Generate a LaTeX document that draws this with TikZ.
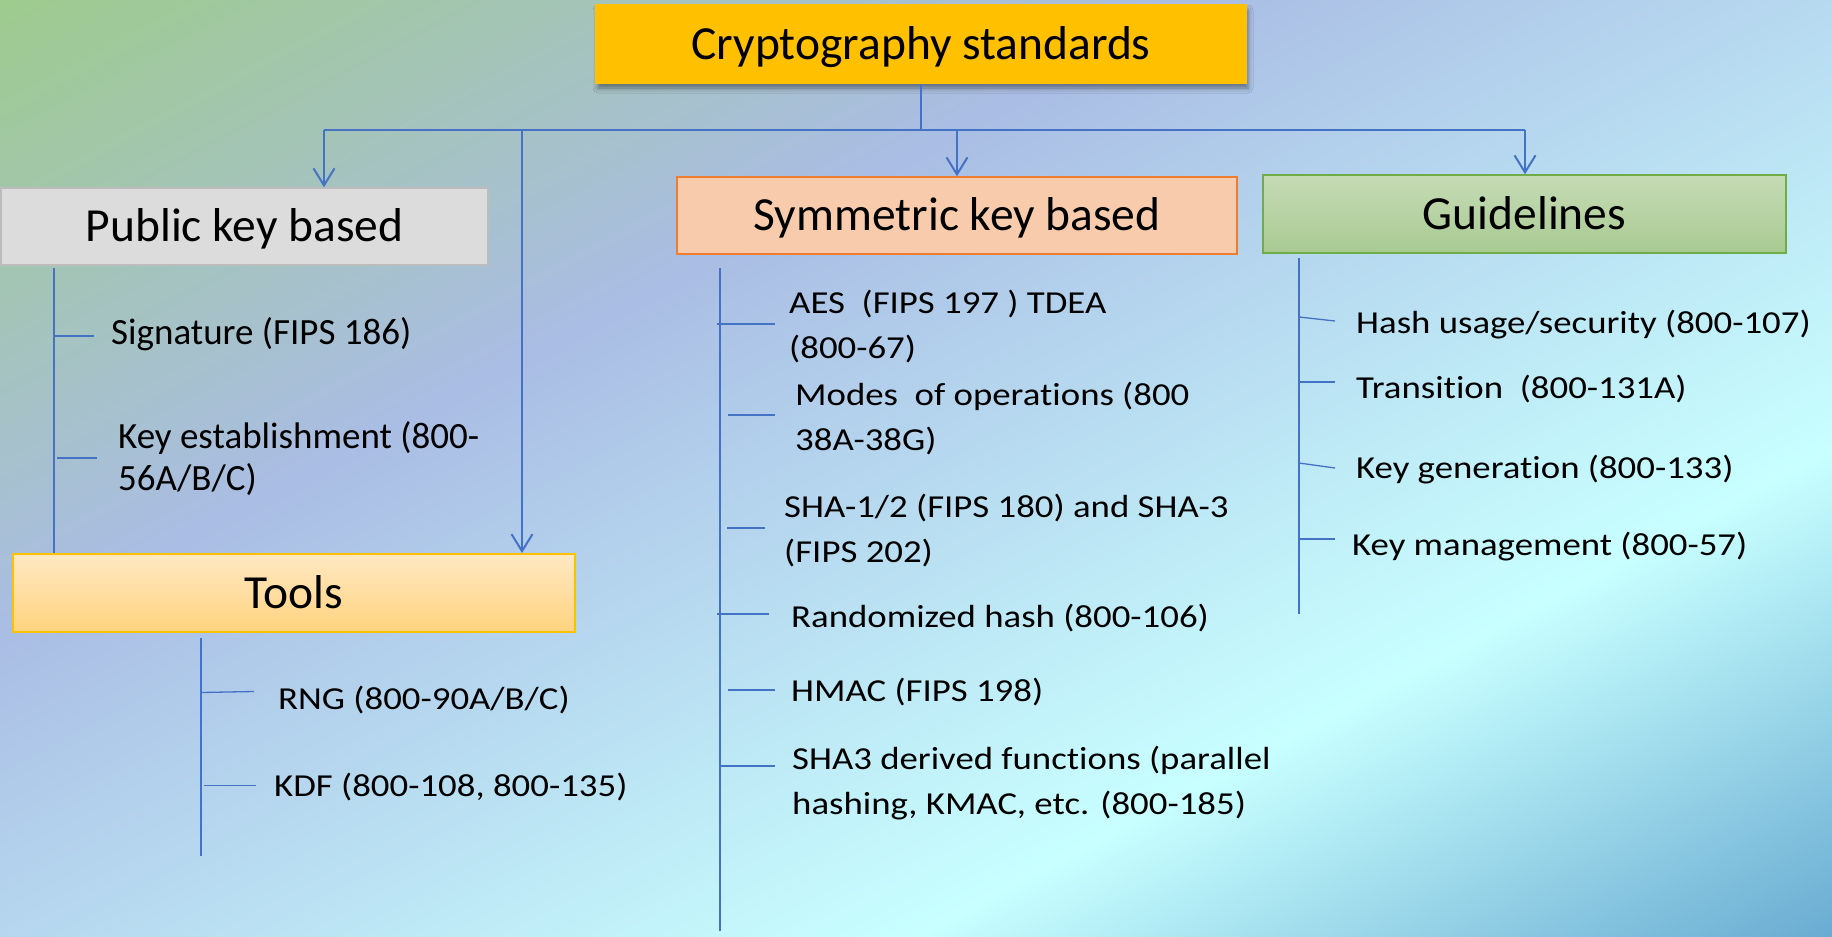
\documentclass[tikz,border=0pt]{standalone}
\usepackage{fontspec}
\setmainfont[Ligatures=NoCommon]{Carlito}
\newfontfamily\wideitem[FakeStretch=1.15,Ligatures=NoCommon]{Carlito}
\usetikzlibrary{arrows.meta,shadows.blur}

% slide background colours
\definecolor{bgGreen}{HTML}{9ECB8E}
\definecolor{bgLav}{HTML}{AABDE4}
\definecolor{bgCyan}{HTML}{C8FFFF}
\definecolor{bgDeep}{HTML}{6AACD2}
% boxes and lines
\definecolor{link}{HTML}{4472C4}
\definecolor{topFill}{HTML}{FFC000}
\definecolor{pubFill}{HTML}{DCDCDC}
\definecolor{pubLine}{HTML}{BCBCBC}
\definecolor{symFill}{HTML}{F8CBAD}
\definecolor{symLine}{HTML}{ED7D31}
\definecolor{guideTop}{HTML}{C6DBB5}
\definecolor{guideBot}{HTML}{A8CA92}
\definecolor{guideLine}{HTML}{70AD47}
\definecolor{toolTop}{HTML}{FFE8C2}
\definecolor{toolBot}{HTML}{FFD37F}
\definecolor{toolLine}{HTML}{FFC000}

\pgfdeclarehorizontalshading{slidebg}{100bp}{%
  color(0bp)=(bgGreen); color(27bp)=(bgGreen);
  color(42.28bp)=(bgLav); color(61.28bp)=(bgCyan);
  color(73.01bp)=(bgDeep); color(100bp)=(bgDeep)}

\newcommand{\twoline}[2]{\vtop{\hbox{#1}\hbox{#2}}}

\tikzset{
  hdr/.style={font=\fontsize{47.5}{56}\selectfont, text height=30.6pt,
    text depth=0pt, inner sep=0pt, line width=1.5pt},
  pubitem/.style={font=\fontsize{37}{42}\selectfont, anchor=base west, inner sep=0pt},
  item/.style={font=\wideitem\fontsize{32}{45}\selectfont, anchor=base west, inner sep=0pt},
  conn/.style={draw=link, line width=2pt},
  arr/.style={conn, -{Straight Barb[length=17pt,width=21pt,line width=2pt]}},
  branch/.style={draw=link, line width=1.3pt},
}

\begin{document}
\begin{tikzpicture}[x=1pt,y=-1pt]
\useasboundingbox (0,0) rectangle (1832,937);

% background
\begin{scope}
  \clip (0,0) rectangle (1832,937);
  \shade[shading=slidebg, shading angle=-62] (0,-447.5) rectangle (1832,1384.5);
\end{scope}

% headers
\node[hdr, fill=topFill, draw=topFill, minimum width=650pt, minimum height=78pt,
  blur shadow={shadow xshift=2pt, shadow yshift=-5pt, shadow blur radius=5pt, shadow opacity=45}]
  (top) at (921,44) {Cryptography standards};
\node[hdr, fill=pubFill, draw=pubLine, minimum width=487pt, minimum height=77pt]
  (pub) at (244.5,226.5) {Public key based};
\node[hdr, fill=symFill, draw=symLine, minimum width=560pt, minimum height=77pt]
  (sym) at (957,215.5) {Symmetric key based};
\node[hdr, top color=guideTop, bottom color=guideBot, draw=guideLine,
  minimum width=523pt, minimum height=78pt]
  (guide) at (1524.5,214) {Guidelines};
\node[hdr, top color=toolTop, bottom color=toolBot, draw=toolLine, line width=2pt,
  minimum width=562pt, minimum height=78pt]
  (tools) at (294,593) {Tools};

% top-level connectors
\coordinate (bus) at (921,130);
\coordinate (busPub) at (324,130);
\coordinate (busTools) at (522,130);
\coordinate (busSym) at (957,130);
\coordinate (busGuide) at (1525,130);
\draw[conn] (top.south) -- (bus);
\draw[conn] (busPub) -- (busGuide);
\draw[arr] (busPub) -- (pub.north -| busPub);
\draw[arr] (busTools) -- (tools.north -| busTools);
\draw[arr] (busSym) -- (sym.north -| busSym);
\draw[arr] (busGuide) -- (guide.north -| busGuide);

% public key items
\draw[branch] (54,268) -- (54,553);
\draw[branch] (54,336) -- (94,336);
\draw[branch] (57,458) -- (97,458);
\node[pubitem] (sig) at (111,344) {Signature (FIPS 186)};
\node[pubitem] (kest) at (118,448) {\twoline{Key establishment (800-}{56A/B/C)}};

% tools items
\draw[branch] (201,638) -- (201,856);
\draw[branch] (201,692.5) -- (254,691.5);
\draw[branch] (204,785.5) -- (256,785.5);
\node[item] (rng) at (278,709) {RNG (800-90A/B/C)};
\node[item] (kdf) at (274,796) {KDF (800-108, 800-135)};

% symmetric key items
\draw[branch] (720,268) -- (720,931);
\draw[branch] (717,324) -- (775,324);
\draw[branch] (728,415) -- (775,415);
\draw[branch] (727,528) -- (765,528);
\draw[branch] (717,614) -- (769,614);
\draw[branch] (728,690) -- (775,690);
\draw[branch] (721,766) -- (775,766);
\node[item] (aes) at (789,313) {\twoline{AES\ \ (FIPS 197 ) TDEA}{(800-67)}};
\node[item] (modes) at (795,405) {\twoline{Modes\ \ of operations (800}{38A-38G)}};
\node[item] (sha) at (784,517) {\twoline{SHA-1/2 (FIPS 180) and SHA-3}{(FIPS 202)}};
\node[item] (rhash) at (791,627) {Randomized hash (800-106)};
\node[item] (hmac) at (791,701) {HMAC (FIPS 198)};
\node[item] (sha3) at (792,769) {\twoline{SHA3 derived functions (parallel}{hashing, KMAC, etc. (800-185)}};

% guideline items
\draw[branch] (1299,258) -- (1299,614);
\draw[branch] (1299,317) -- (1335,321);
\draw[branch] (1299,382) -- (1335,382);
\draw[branch] (1299,463) -- (1335,468);
\draw[branch] (1299,539) -- (1335,539);
\node[item] (hashuse) at (1356,333) {Hash usage/security (800-107)};
\node[item] (trans) at (1356,398) {Transition\ \ (800-131A)};
\node[item] (keygen) at (1356,478) {Key generation (800-133)};
\node[item] (keymgmt) at (1352,555) {Key management (800-57)};
\end{tikzpicture}
\end{document}
